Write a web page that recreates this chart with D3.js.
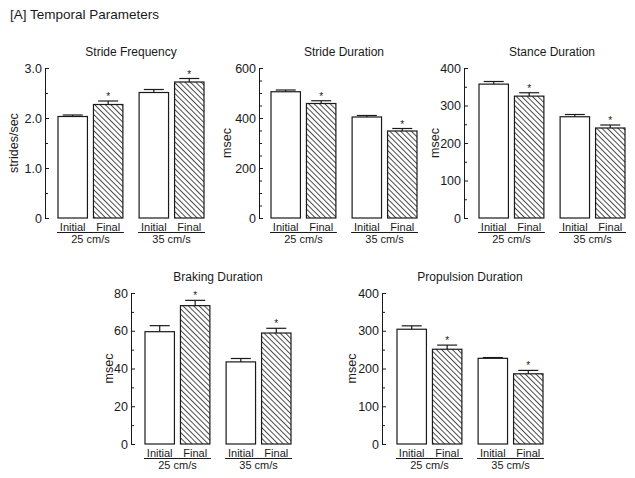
<!DOCTYPE html>
<html>
<head>
<meta charset="utf-8">
<script src="https://cdn.jsdelivr.net/npm/d3@7"></script>
<style>
  html, body { margin: 0; padding: 0; background: #fff; }
  svg { display: block; font-family: "Liberation Sans", Arial, sans-serif; }
</style>
</head>
<body>
<svg id="chart" width="635" height="478"></svg>
<script>
// ---------------- data ----------------
const mainTitle = "[A] Temporal Parameters";
const speeds = ["25 cm/s", "35 cm/s"];
const conditions = ["Initial", "Final"];

const panelTitles = ["Stride Frequency", "Stride Duration", "Stance Duration", "Braking Duration", "Propulsion Duration"];
const yLabels = ["strides/sec", "msec", "msec", "msec", "msec"];

// order: 25 Initial, 25 Final, 35 Initial, 35 Final
const strideFreqMean = [2.03, 2.27, 2.51, 2.72];
const strideFreqSE   = [0.03, 0.07, 0.06, 0.07];
const strideDurMean  = [505, 458, 404, 348];
const strideDurSE    = [7, 11, 6, 10];
const stanceDurMean  = [357, 325, 270, 240];
const stanceDurSE    = [7, 9, 6, 8];
const brakingDurMean = [59.5, 73.3, 43.5, 58.8];
const brakingDurSE   = [3.2, 2.8, 1.8, 2.5];
const propDurMean    = [304, 251, 227, 186];
const propDurSE      = [9, 11, 2, 9];
const significant    = [false, true, false, true];

const yMax       = [3, 600, 400, 80, 400];
const majorTicks = [[0, 1, 2, 3], [0, 200, 400, 600], [0, 100, 200, 300, 400], [0, 20, 40, 60, 80], [0, 100, 200, 300, 400]];
const minorTicks = [[0.5, 1.5, 2.5],
                    [50, 100, 150, 250, 300, 350, 450, 500, 550],
                    [50, 150, 250, 350],
                    [10, 30, 50, 70],
                    [50, 150, 250, 350]];

const means = [strideFreqMean, strideDurMean, stanceDurMean, brakingDurMean, propDurMean];
const ses   = [strideFreqSE, strideDurSE, stanceDurSE, brakingDurSE, propDurSE];

// ---------------- layout ----------------
const layout = [
  { axisX: 45,  top: 68,  bottom: 218, left: 58,  right: 204, yLabX: 14 },
  { axisX: 259, top: 68,  bottom: 218, left: 271, right: 417, yLabX: 227 },
  { axisX: 464, top: 68,  bottom: 218, left: 479, right: 625, yLabX: 435 },
  { axisX: 131, top: 293, bottom: 444, left: 145, right: 291, yLabX: 109 },
  { axisX: 382, top: 293, bottom: 444, left: 397, right: 543, yLabX: 352 }
];

const svg = d3.select("#chart");
const ink = "#1a1a1a";

// hatch pattern
const defs = svg.append("defs");
const pat = defs.append("pattern")
  .attr("id", "hatch")
  .attr("patternUnits", "userSpaceOnUse")
  .attr("width", 3.8).attr("height", 10)
  .attr("patternTransform", "rotate(-45)");
pat.append("rect").attr("width", 3.8).attr("height", 10).attr("fill", "#fff");
pat.append("line").attr("x1", 0.5).attr("x2", 0.5).attr("y1", 0).attr("y2", 10)
  .attr("stroke", "#333").attr("stroke-width", 0.9);

svg.append("text")
  .attr("x", 10).attr("y", 19)
  .attr("font-size", 13.5).attr("fill", ink)
  .text(mainTitle);

layout.forEach((L, i) => {
  const g = svg.append("g");
  const y = d3.scaleLinear().domain([0, yMax[i]]).range([L.bottom, L.top]);
  const xGroup = d3.scaleBand().domain(speeds).range([L.left, L.right]).paddingInner(0.2);
  const xCond = d3.scaleBand().domain(conditions).range([0, xGroup.bandwidth()]).paddingInner(0.17);

  const fmt = i === 0 ? (d => d === 0 ? "0" : d.toFixed(1)) : d3.format("d");

  // y axis (major)
  const ax = g.append("g").attr("transform", `translate(${L.axisX},0)`)
    .call(d3.axisLeft(y).tickValues(majorTicks[i]).tickFormat(fmt)
      .tickSizeInner(-4).tickSizeOuter(0).tickPadding(3));
  ax.select(".domain").attr("stroke", ink).attr("stroke-width", 1);
  ax.selectAll(".tick line").attr("stroke", ink);
  ax.selectAll(".tick text").attr("font-size", 12.5).attr("fill", ink)
    .attr("font-family", "Liberation Sans, Arial, sans-serif");

  // minor ticks
  const mx = g.append("g").attr("transform", `translate(${L.axisX},0)`)
    .call(d3.axisLeft(y).tickValues(minorTicks[i]).tickFormat("")
      .tickSizeInner(-3).tickSizeOuter(0));
  mx.select(".domain").remove();
  mx.selectAll(".tick line").attr("stroke", ink);

  // y label
  g.append("text")
    .attr("transform", `translate(${L.yLabX},${(L.top + L.bottom) / 2}) rotate(-90)`)
    .attr("text-anchor", "middle").attr("dominant-baseline", "central")
    .attr("font-size", 12.5).attr("fill", ink)
    .text(yLabels[i]);

  // title
  g.append("text")
    .attr("x", (L.left + L.right) / 2).attr("y", L.top - 12)
    .attr("text-anchor", "middle").attr("font-size", 12).attr("fill", ink)
    .text(panelTitles[i]);

  // bars
  const rows = [];
  speeds.forEach((s, si) => conditions.forEach((c, ci) => {
    const k = si * 2 + ci;
    rows.push({ s, c, m: means[i][k], e: ses[i][k], sig: significant[k] });
  }));

  const bx = d => xGroup(d.s) + xCond(d.c);
  const bw = xCond.bandwidth();

  g.selectAll("rect.bar").data(rows).join("rect")
    .attr("class", "bar")
    .attr("x", d => bx(d))
    .attr("y", d => y(d.m))
    .attr("width", bw)
    .attr("height", d => y(0) - y(d.m))
    .attr("fill", d => d.c === "Final" ? "url(#hatch)" : "#fff")
    .attr("stroke", ink).attr("stroke-width", 1.2);

  // error bars (upper only)
  const capHalf = 10;
  g.selectAll("line.err").data(rows).join("line")
    .attr("class", "err")
    .attr("x1", d => bx(d) + bw / 2).attr("x2", d => bx(d) + bw / 2)
    .attr("y1", d => y(d.m)).attr("y2", d => y(d.m + d.e))
    .attr("stroke", ink).attr("stroke-width", 1.2);
  g.selectAll("line.cap").data(rows).join("line")
    .attr("class", "cap")
    .attr("x1", d => bx(d) + bw / 2 - capHalf).attr("x2", d => bx(d) + bw / 2 + capHalf)
    .attr("y1", d => y(d.m + d.e)).attr("y2", d => y(d.m + d.e))
    .attr("stroke", ink).attr("stroke-width", 1.2);

  // significance asterisks
  g.selectAll("text.sig").data(rows.filter(d => d.sig)).join("text")
    .attr("class", "sig")
    .attr("x", d => bx(d) + bw / 2)
    .attr("y", d => y(d.m + d.e) - 1)
    .attr("text-anchor", "middle").attr("font-size", 10).attr("fill", ink)
    .text("*");

  // condition labels
  g.selectAll("text.cond").data(rows).join("text")
    .attr("class", "cond")
    .attr("x", d => bx(d) + bw / 2)
    .attr("y", L.bottom + 12.5)
    .attr("text-anchor", "middle").attr("font-size", 11).attr("fill", ink)
    .text(d => d.c);

  // group underline + speed labels
  speeds.forEach(s => {
    g.append("line")
      .attr("x1", xGroup(s) - 1).attr("x2", xGroup(s) + xGroup.bandwidth() + 1)
      .attr("y1", L.bottom + 14.5).attr("y2", L.bottom + 14.5)
      .attr("stroke", ink).attr("stroke-width", 1);
    g.append("text")
      .attr("x", xGroup(s) + xGroup.bandwidth() / 2)
      .attr("y", L.bottom + 25)
      .attr("text-anchor", "middle").attr("font-size", 11).attr("fill", ink)
      .text(s);
  });
});
</script>
</body>
</html>
